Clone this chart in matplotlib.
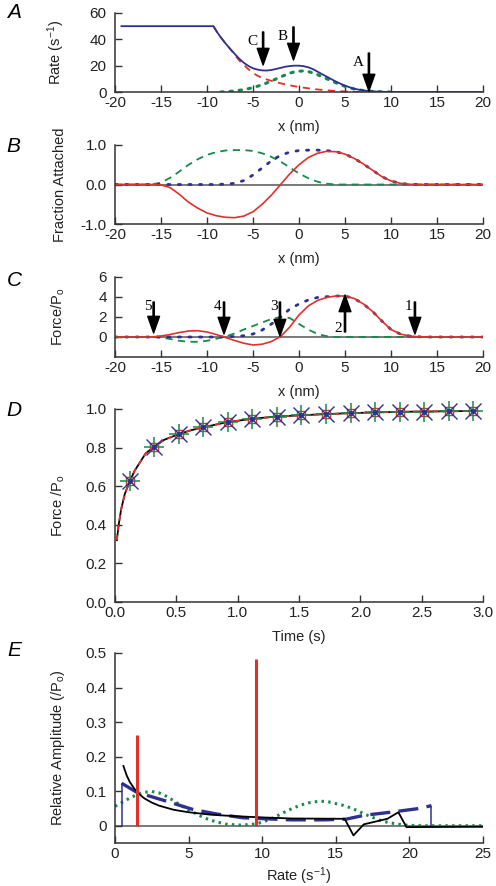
import matplotlib
matplotlib.use("Agg")
import matplotlib.pyplot as plt

plt.rcParams['font.family'] = ['Liberation Sans', 'DejaVu Sans']
plt.rcParams['mathtext.fontset'] = 'custom'
plt.rcParams['mathtext.rm'] = 'Liberation Sans'
plt.rcParams['mathtext.it'] = 'Liberation Sans:italic'
plt.rcParams['axes.unicode_minus'] = False

BLUE = '#2e3192'
RED = '#e0312b'
GREEN = '#178a4a'
AXC = '#333333'

# ---------------- Panel A : rates vs x ----------------
a_blue_x = [-19.3, -9.3, -9, -8.5, -8, -7.5, -7, -6.5, -6, -5.5, -5, -4.5, -4, -3.5, -3, -2.5, -2, -1.5, -1,
            -0.5, 0, 0.5, 1, 1.5, 2, 2.5, 3, 3.5, 4, 4.5, 5, 5.5, 6, 6.5, 7, 7.5, 8, 8.5, 9, 10, 20]
a_blue_y = [50, 50, 46.5, 41.5, 37, 33, 29, 25.3, 22.2, 19.8, 18, 17, 16.4, 16.3, 16.7, 17.5, 18.3, 19.2, 19.7,
            20, 20, 19.6, 18.8, 17.4, 15.5, 13.6, 11.7, 9.8, 8, 6.3, 4.8, 3.6, 2.5, 1.8, 1.2, 0.8, 0.5, 0.3, 0.15, 0, 0]
a_red_x = [-9.3, -9, -8.5, -8, -7.5, -7, -6.5, -6, -5.5, -5, -4.5, -4, -3.5, -3, -2.5, -2, -1.5, -1, -0.5,
           0, 0.5, 1, 1.5, 2, 3, 4, 5, 6, 7]
a_red_y = [50, 46.5, 41.5, 37, 32.8, 28.3, 24, 20.5, 17.3, 14.5, 12.3, 10.7, 9.5, 8.5, 7.5, 6.6, 5.8, 5.1, 4.4,
           3.8, 3.3, 2.8, 2.35, 1.95, 1.3, 0.8, 0.4, 0.15, 0.03]
a_green_x = [-8.5, -8, -7, -6, -5, -4, -3, -2, -1, -0.5, 0, 0.5, 1, 1.5, 2, 2.5, 3, 3.5, 4, 4.5, 5,
             5.5, 6, 7, 8, 9, 10]
a_green_y = [0, 0.2, 0.8, 1.8, 3.3, 5.5, 8.3, 11.5, 14.3, 15.3, 15.8, 16, 15.5, 14.5, 13.2, 11.7, 10.1, 8.5, 7, 5.6,
             4.3, 3.2, 2.3, 1.1, 0.45, 0.15, 0]
a_arrow_labels = ['C', 'B', 'A']
a_arrow_x = [-3.9, -0.6, 7.6]
a_arrow_top = [45.6, 49.4, 29.6]
a_arrow_tip = [20.5, 24.3, 0.8]

# ---------------- Panel B : fraction attached ----------------
b_x = list(range(-20, 21))
b_red = [0, 0, 0, 0, 0, -0.01, -0.08, -0.25, -0.45, -0.6, -0.72, -0.79, -0.83, -0.84, -0.8, -0.69, -0.5, -0.27, 0,
         0.27, 0.5, 0.68, 0.79, 0.84, 0.83, 0.77, 0.66, 0.52, 0.36, 0.2, 0.09, 0.03, 0.005, 0, 0, 0, 0, 0, 0, 0, 0]
b_green = [0, 0, 0, 0, 0, 0.05, 0.17, 0.33, 0.5, 0.64, 0.75, 0.82, 0.86, 0.87, 0.87, 0.85, 0.79, 0.7, 0.58,
           0.43, 0.28, 0.16, 0.07, 0.02, 0, 0, 0, 0, 0, 0, 0, 0, 0, 0, 0, 0, 0, 0, 0, 0, 0]
b_blue = [0, 0, 0, 0, 0, 0, 0, 0, 0, 0, 0, 0, 0.01, 0.03, 0.1, 0.24, 0.42, 0.6, 0.74,
          0.82, 0.86, 0.87, 0.87, 0.86, 0.83, 0.77, 0.66, 0.52, 0.36, 0.2, 0.09, 0.03, 0.005, 0, 0, 0, 0, 0, 0, 0, 0]

# ---------------- Panel C : force ----------------
c_x = list(range(-20, 21))
c_red = [0, 0, 0, 0, 0, 0.1, 0.25, 0.45, 0.6, 0.63, 0.5, 0.25, -0.05, -0.35, -0.62, -0.8, -0.72, -0.45, 0.05,
         1.0, 2.2, 3.1, 3.65, 3.95, 4.1, 4.1, 3.85, 3.3, 2.55, 1.6, 0.75, 0.3, 0.1, 0.02, 0, 0, 0, 0, 0, 0, 0]
c_green = [0, 0, 0, 0, 0, -0.05, -0.2, -0.38, -0.48, -0.48, -0.38, -0.18, 0.05, 0.35, 0.75, 1.1, 1.45, 1.8, 2.0,
           1.9, 1.3, 0.75, 0.3, 0.08, 0, 0, 0, 0, 0, 0, 0, 0, 0, 0, 0, 0, 0, 0, 0, 0, 0]
c_blue = [0, 0, 0, 0, 0, 0, 0, 0, 0, 0, 0, 0, 0.02, 0.05, 0.13, 0.3, 0.7, 1.3, 2.0,
          2.8, 3.3, 3.7, 3.95, 4.03, 4.1, 4.1, 3.85, 3.3, 2.55, 1.6, 0.75, 0.3, 0.1, 0.02, 0, 0, 0, 0, 0, 0, 0]
c_arrow_labels = ['5', '4', '3', '1']
c_arrow_x = [-15.8, -8.15, -2.07, 12.6]
c_arrow_top = [3.5, 3.5, 3.5, 3.5]
c_arrow_tip = [0.4, 0.3, 0.1, 0.3]
c_up_arrow_x = 5.0
c_up_arrow_base = 0.5
c_up_arrow_tip = 4.2

# ---------------- Panel D : force recovery ----------------
d_t = [0.015, 0.03, 0.05, 0.08, 0.12, 0.16, 0.2, 0.25, 0.32, 0.4, 0.52, 0.62, 0.72, 0.9, 1.1, 1.3, 1.5,
       1.7, 1.9, 2.1, 2.3, 2.5, 2.7, 2.95]
d_model = [0.32, 0.40, 0.48, 0.56, 0.625, 0.68, 0.72, 0.77, 0.805, 0.84, 0.87, 0.89, 0.905, 0.93, 0.948,
           0.96, 0.967, 0.973, 0.978, 0.982, 0.985, 0.987, 0.988, 0.99]
d_fit = [0.32, 0.40, 0.48, 0.56, 0.625, 0.68, 0.72, 0.77, 0.805, 0.84, 0.87, 0.89, 0.905, 0.93, 0.948,
         0.96, 0.967, 0.973, 0.978, 0.982, 0.985, 0.987, 0.988, 0.99]
d_mark_t = [0.12, 0.32, 0.52, 0.72, 0.92, 1.12, 1.32, 1.52, 1.72, 1.92, 2.12, 2.32, 2.52, 2.72, 2.92]
d_mark_y = [0.625, 0.805, 0.87, 0.905, 0.932, 0.948, 0.96, 0.967, 0.973, 0.978, 0.982, 0.985, 0.987, 0.988, 0.989]

# ---------------- Panel E : rate spectrum ----------------
e_bar_x = [1.52, 9.56]
e_bar_h = [0.264, 0.482]
e_blue_x = [0.45, 1.47, 3.5, 5.3, 6.9, 8.7, 10.3, 11.9, 14.15, 15.7, 16.9, 18.7, 20.5, 21.5]
e_blue_y = [0.123, 0.097, 0.071, 0.047, 0.034, 0.023, 0.02, 0.017, 0.017, 0.019, 0.03, 0.039, 0.049, 0.058]
e_black_x = [0.57, 0.8, 1.0, 1.3, 1.6, 2.0, 2.5, 3.0, 4.0, 5.0, 6.5, 8.0, 10.0, 12.0, 15.6, 16.2, 16.9,
             18.5, 19.25, 19.8, 25]
e_black_y = [0.173, 0.145, 0.127, 0.108, 0.093, 0.079, 0.067, 0.058, 0.046, 0.039, 0.032, 0.028, 0.024,
             0.021, 0.02, -0.028, 0.004, 0.02, 0.039, -0.004, -0.003]
e_green_x = [0, 0.5, 1.0, 1.5, 2.0, 2.5, 3.0, 3.5, 4.0, 4.5, 5.0, 5.5, 6.0, 6.5, 7.0, 7.5, 8.0, 8.5, 9.0, 9.5,
             10, 10.5, 11, 11.5, 12, 12.5, 13, 13.5, 14, 14.5, 15, 15.5, 16, 16.5, 17, 17.5, 18, 18.5, 19,
             19.5, 20, 21, 25]
e_green_y = [0.056, 0.068, 0.08, 0.09, 0.097, 0.099, 0.095, 0.085, 0.072, 0.058, 0.046, 0.035, 0.024, 0.016,
             0.01, 0.005, 0.003, 0.002, 0.003, 0.005, 0.01, 0.018, 0.028, 0.039, 0.049, 0.058, 0.065, 0.069,
             0.071, 0.069, 0.064, 0.059, 0.052, 0.043, 0.033, 0.024, 0.016, 0.01, 0.006, 0.003, 0.001, 0, 0]

W, H = 496, 886
fig = plt.figure(figsize=(W / 100, H / 100), dpi=100)

TICK_FS = 11
LAB_FS = 10.5


def make_ax(left, right, top, bottom):
    ax = fig.add_axes([left / W, 1 - bottom / H, (right - left) / W, (bottom - top) / H])
    for s in ['top', 'right']:
        ax.spines[s].set_visible(False)
    for s in ['left', 'bottom']:
        ax.spines[s].set_color(AXC)
        ax.spines[s].set_linewidth(1.1)
    ax.tick_params(direction='in', length=5, width=1, color=AXC, labelsize=TICK_FS, labelcolor='#222222')
    ax.tick_params(axis='x', pad=3)
    ax.tick_params(axis='y', pad=6)
    ax.patch.set_alpha(0)
    return ax


def labels(ax, top, bottom, xl, yl):
    hpx = bottom - top
    ax.set_xlabel(xl, fontsize=LAB_FS, color='#222222')
    ax.xaxis.set_label_coords(0.5, -28 / hpx)
    ax.set_ylabel(yl, fontsize=LAB_FS, color='#222222')
    ax.yaxis.set_label_coords(-0.13, 0.5)


def panel_letter(txt, x, y):
    fig.text(x / W, 1 - y / H, txt, fontsize=15, style='italic', ha='center', va='center')


def down_arrow(ax, x, top, tip):
    ax.annotate('', xy=(x, tip), xytext=(x, top),
                arrowprops=dict(facecolor='black', edgecolor='black', width=0.9, headwidth=8.5,
                                headlength=12, shrink=0), annotation_clip=False)


xticks40 = [-20, -15, -10, -5, 0, 5, 10, 15, 20]

# Panel A
axA = make_ax(115, 483, 13, 92)
axA.plot(a_red_x, a_red_y, color=RED, lw=1.3, dashes=(4, 3))
axA.plot(a_green_x, a_green_y, color=GREEN, lw=2.2, linestyle=(0, (0.8, 2.2)), dash_capstyle='round')
axA.plot(a_blue_x, a_blue_y, color=BLUE, lw=1.3)
axA.set_xlim(-20, 20)
axA.set_ylim(0, 60)
axA.set_xticks(xticks40)
axA.set_yticks([0, 20, 40, 60])
labels(axA, 13, 92, 'x (nm)', 'Rate (s$^{-1}$)')
for lab, x, t0, t1 in zip(a_arrow_labels, a_arrow_x, a_arrow_top, a_arrow_tip):
    down_arrow(axA, x, t0, t1)
    axA.text(x - 0.6, t0 - 2, lab, family='Liberation Serif', fontsize=11, ha='right', va='top')

# Panel B
axB = make_ax(115, 483, 145, 224)
axB.axhline(0, color='#555555', lw=1.1, zorder=1)
axB.plot(b_x, b_green, color=GREEN, lw=1.3, dashes=(4, 3))
axB.plot(b_x, b_blue, color=BLUE, lw=2.0, linestyle=(0, (0.8, 3)), dash_capstyle='round')
axB.plot(b_x, b_red, color=RED, lw=1.2)
axB.set_xlim(-20, 20)
axB.set_ylim(-1, 1)
axB.set_xticks(xticks40)
axB.set_yticks([-1, 0, 1])
axB.set_yticklabels(['-1.0', '0.0', '1.0'])
labels(axB, 145, 224, 'x (nm)', 'Fraction Attached')

# Panel C
axC = make_ax(115, 483, 277, 357)
axC.axhline(0, color='#555555', lw=1.1, zorder=1)
axC.plot(c_x, c_green, color=GREEN, lw=1.3, dashes=(4, 3))
axC.plot(c_x, c_blue, color=BLUE, lw=2.0, linestyle=(0, (0.8, 3)), dash_capstyle='round')
axC.plot(c_x, c_red, color=RED, lw=1.2)
axC.set_xlim(-20, 20)
axC.set_ylim(-2, 6)
axC.set_xticks(xticks40)
axC.set_yticks([0, 2, 4, 6])
labels(axC, 277, 357, 'x (nm)', 'Force/P$_{\\mathrm{o}}$')
for lab, x, t0, t1 in zip(c_arrow_labels, c_arrow_x, c_arrow_top, c_arrow_tip):
    down_arrow(axC, x, t0, t1)
    axC.text(x - 0.25, t0 + 0.15, lab, family='Liberation Serif', fontsize=11, ha='right', va='top')
down_arrow(axC, c_up_arrow_x, c_up_arrow_base, c_up_arrow_tip)
axC.text(c_up_arrow_x - 0.35, 0.15, '2', family='Liberation Serif', fontsize=11, ha='right', va='bottom')

# Panel D
axD = make_ax(115, 483, 409, 602)
axD.plot(d_t, d_model, color='black', lw=1.3)
axD.plot(d_t, d_fit, color=RED, lw=1.3, dashes=(3, 2.5))
axD.plot(d_mark_t, d_mark_y, linestyle='none', marker='s', ms=6, mfc='none', mec=RED, mew=1, clip_on=False)
axD.plot(d_mark_t, d_mark_y, linestyle='none', marker='+', ms=15, mec=GREEN, mew=1.1, clip_on=False)
axD.plot(d_mark_t, d_mark_y, linestyle='none', marker='x', ms=11, mec=BLUE, mew=1.0, clip_on=False)
axD.plot(d_mark_t, d_mark_y, linestyle='none', marker='o', ms=2.5, mfc=BLUE, mec=BLUE, clip_on=False)
axD.set_xlim(0, 3)
axD.set_ylim(0, 1)
axD.set_xticks([0, 0.5, 1, 1.5, 2, 2.5, 3])
axD.set_xticklabels(['0.0', '0.5', '1.0', '1.5', '2.0', '2.5', '3.0'])
axD.set_yticks([0, 0.2, 0.4, 0.6, 0.8, 1.0])
axD.set_yticklabels(['0.0', '0.2', '0.4', '0.6', '0.8', '1.0'])
labels(axD, 409, 602, 'Time (s)', 'Force /P$_{\\mathrm{o}}$')

# Panel E
axE = make_ax(115, 483, 653, 843)
axE.axhline(0, color='#555555', lw=1.1, zorder=1)
axE.plot(e_green_x, e_green_y, color=GREEN, lw=2.2, linestyle=(0, (0.8, 1.4)))
axE.vlines([e_blue_x[0], e_blue_x[-1]], 0, [e_blue_y[0], e_blue_y[-1]], color=BLUE, lw=1.1)
axE.plot(e_blue_x, e_blue_y, color=BLUE, lw=2.4, dashes=(6, 2.5))
axE.plot(e_black_x, e_black_y, color='black', lw=1.3)
axE.vlines(e_bar_x, 0, e_bar_h, color=RED, lw=2.2)
axE.set_xlim(0, 25)
axE.set_ylim(-0.05, 0.5)
axE.set_xticks([0, 5, 10, 15, 20, 25])
axE.set_yticks([0, 0.1, 0.2, 0.3, 0.4, 0.5])
axE.set_yticklabels(['0', '0.1', '0.2', '0.3', '0.4', '0.5'])
labels(axE, 653, 843, 'Rate (s$^{-1}$)', 'Relative Amplitude (/P$_{\\mathrm{o}}$)')
axE.xaxis.set_label_coords(0.5, -22 / 190)

panel_letter('A', 14, 13)
panel_letter('B', 13, 146)
panel_letter('C', 14, 280)
panel_letter('D', 14, 410)
panel_letter('E', 14, 650)

fig.savefig('out.png', dpi=100)
